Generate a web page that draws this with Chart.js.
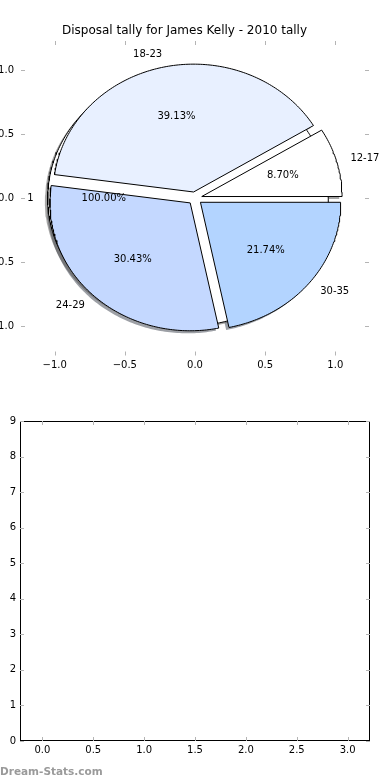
<!DOCTYPE html>
<html>
<head>
<meta charset="utf-8">
<script src="https://cdn.jsdelivr.net/npm/chart.js@4.4.1/dist/chart.umd.min.js"></script>
<style>
  html, body { margin: 0; padding: 0; background: #fff; }
  .box { position: absolute; left: 0; width: 390px; height: 390px; }
  #topBox { top: 0; }
  #bottomBox { top: 390px; }
  #mark { position: absolute; left: 0; top: 766px; font: bold 10.5px "DejaVu Sans"; line-height: 1; color: #9a9a9a; }
</style>
</head>
<body>
<div class="box" id="topBox"><canvas id="pieChart" width="390" height="390"></canvas></div>
<div class="box" id="bottomBox"><canvas id="barChart" width="390" height="390"></canvas></div>
<div id="mark">Dream-Stats.com</div>
<script>
// pie data
const ageGroups = ["12-17", "18-23", "24-29", "30-35"];
const disposals = [2, 9, 7, 5];
const sliceColors = ["#ffffff", "#e8f0ff", "#c4d8ff", "#b3d4ff"];

// the single full pie drawn underneath
const totalGroups = ["1"];
const totalCounts = [1];
const totalColors = ["#ffffff"];

// axis ticks
const pieTicks = [-1.0, -0.5, 0.0, 0.5, 1.0];
const barXTicks = [0.0, 0.5, 1.0, 1.5, 2.0, 2.5, 3.0];
const barYTicks = [0, 1, 2, 3, 4, 5, 6, 7, 8, 9];

const EXPLODE = 0.05;
const SHADOW_OFF = -0.02;
const FONT = "DejaVu Sans";

function arcPoints(cx, cy, a1, a2, withCenter) {
  const pts = [];
  if (withCenter) pts.push({ x: cx, y: cy });
  const steps = Math.max(2, Math.ceil(a2 - a1));
  for (let i = 0; i <= steps; i++) {
    const a = (a1 + (a2 - a1) * i / steps) * Math.PI / 180;
    pts.push({ x: cx + Math.cos(a), y: cy + Math.sin(a) });
  }
  if (withCenter) pts.push({ x: cx, y: cy });
  return pts;
}

function buildPie(labels, values, colors) {
  const total = values.reduce((a, b) => a + b, 0);
  let start = 0;
  return values.map((v, i) => {
    const frac = v / total;
    const a1 = start * 360, a2 = (start + frac) * 360;
    start += frac;
    const mid = (a1 + a2) / 2 * Math.PI / 180;
    const cx = EXPLODE * Math.cos(mid), cy = EXPLODE * Math.sin(mid);
    const full = frac >= 0.9999;
    const lx = cx + 1.1 * Math.cos(mid);
    return {
      pts: arcPoints(cx, cy, a1, a2, !full),
      shadow: arcPoints(cx + SHADOW_OFF, cy + SHADOW_OFF, a1, a2, !full),
      color: colors[i],
      label: labels[i],
      labelX: lx, labelY: cy + 1.1 * Math.sin(mid),
      align: lx > 0 ? "left" : "right",
      pct: (frac * 100).toFixed(2) + "%",
      pctX: cx + 0.6 * Math.cos(mid), pctY: cy + 0.6 * Math.sin(mid)
    };
  });
}

function shadowColor(hex) {
  const n = parseInt(hex.slice(1), 16);
  const r = Math.round(((n >> 16) & 255) * 0.3), g = Math.round(((n >> 8) & 255) * 0.3), b = Math.round((n & 255) * 0.3);
  return `rgba(${r},${g},${b},0.5)`;
}

const under = buildPie(totalGroups, totalCounts, totalColors);
const wedges = buildPie(ageGroups, disposals, sliceColors);
const allWedges = under.concat(wedges);

const datasets = [];
wedges.forEach(w => datasets.push({
  data: w.pts, showLine: true, fill: "shape", backgroundColor: w.color,
  borderColor: "#000", borderWidth: 1, pointRadius: 0, tension: 0, order: 1
}));
under.forEach(w => datasets.push({
  data: w.pts, showLine: true, fill: "shape", backgroundColor: w.color,
  borderColor: "#000", borderWidth: 1, pointRadius: 0, tension: 0, order: 2
}));
allWedges.forEach(w => datasets.push({
  data: w.shadow, showLine: true, fill: "shape", backgroundColor: shadowColor(w.color),
  borderColor: shadowColor(w.color), borderWidth: 0, pointRadius: 0, tension: 0, order: 3
}));

const fmt = v => (v < 0 ? "\u2212" : "") + Math.abs(v).toFixed(1);

// small inward tick marks on all four sides (+ optional frame)
const tickMarks = {
  id: "tickMarks",
  afterDraw(chart, args, opts) {
    const { ctx, chartArea: a, scales } = chart;
    ctx.save();
    if (opts.frame) {
      ctx.strokeStyle = "#000";
      ctx.lineWidth = 1;
      ctx.strokeRect(Math.round(a.left) + 0.5, Math.round(a.top) + 0.5, Math.round(a.right - a.left) - 1, Math.round(a.bottom - a.top) - 1);
    }
    ctx.strokeStyle = "#b4b4b4";
    ctx.lineWidth = 1;
    ctx.beginPath();
    scales.x.ticks.forEach(t => {
      const px = Math.round(scales.x.getPixelForValue(t.value)) + 0.5;
      ctx.moveTo(px, a.top); ctx.lineTo(px, a.top + 4);
      ctx.moveTo(px, a.bottom); ctx.lineTo(px, a.bottom - 4);
    });
    scales.y.ticks.forEach(t => {
      const py = Math.round(scales.y.getPixelForValue(t.value)) + 0.5;
      ctx.moveTo(a.left, py); ctx.lineTo(a.left + 4, py);
      ctx.moveTo(a.right, py); ctx.lineTo(a.right - 4, py);
    });
    ctx.stroke();
    ctx.restore();
  }
};

const pieLabels = {
  id: "pieLabels",
  afterDatasetsDraw(chart) {
    const { ctx, scales } = chart;
    ctx.save();
    ctx.font = `10px "${FONT}"`;
    ctx.fillStyle = "#000";
    ctx.textBaseline = "middle";
    allWedges.forEach(w => {
      ctx.textAlign = w.align;
      ctx.fillText(w.label, scales.x.getPixelForValue(w.labelX), scales.y.getPixelForValue(w.labelY));
      ctx.textAlign = "center";
      ctx.fillText(w.pct, scales.x.getPixelForValue(w.pctX), scales.y.getPixelForValue(w.pctY));
    });
    ctx.restore();
  }
};

const tickFont = { family: FONT, size: 10 };

new Chart(document.getElementById("pieChart"), {
  type: "scatter",
  data: { datasets: datasets },
  options: {
    responsive: false,
    animation: false,
    layout: { padding: { right: 21 } },
    scales: {
      x: {
        min: -1.24, max: 1.24,
        afterBuildTicks: s => { s.ticks = pieTicks.map(v => ({ value: v })); },
        afterFit: s => { s.height = 34.5; },
        grid: { display: false, drawTicks: false },
        border: { display: false },
        ticks: { color: "#000", font: tickFont, padding: 4, maxRotation: 0, callback: fmt }
      },
      y: {
        min: -1.23, max: 1.23,
        afterBuildTicks: s => { s.ticks = pieTicks.map(v => ({ value: v })); },
        afterFit: s => { s.width = 21; },
        grid: { display: false, drawTicks: false },
        border: { display: false },
        ticks: { color: "#000", font: tickFont, padding: 7, callback: fmt }
      }
    },
    plugins: {
      legend: { display: false },
      tooltip: { enabled: false },
      title: {
        display: true,
        text: "Disposal tally for James Kelly - 2010 tally",
        color: "#000",
        font: { family: FONT, size: 12, weight: "normal", lineHeight: 1.2 },
        padding: { top: 24, bottom: 2.6 }
      },
      tickMarks: { frame: false }
    }
  },
  plugins: [tickMarks, pieLabels]
});

new Chart(document.getElementById("barChart"), {
  type: "scatter",
  data: { datasets: [{ data: [] }] },
  options: {
    responsive: false,
    animation: false,
    layout: { padding: { top: 31, right: 20 } },
    scales: {
      x: {
        min: -0.22, max: 3.22,
        afterBuildTicks: s => { s.ticks = barXTicks.map(v => ({ value: v })); },
        afterFit: s => { s.height = 39; },
        grid: { display: false, drawTicks: false },
        border: { display: false },
        ticks: { color: "#000", font: tickFont, padding: 3, maxRotation: 0, callback: v => v.toFixed(1) }
      },
      y: {
        min: 0, max: 9,
        afterBuildTicks: s => { s.ticks = barYTicks.map(v => ({ value: v })); },
        afterFit: s => { s.width = 20; },
        grid: { display: false, drawTicks: false },
        border: { display: false },
        ticks: { color: "#000", font: tickFont, padding: 4, callback: v => String(v) }
      }
    },
    plugins: {
      legend: { display: false },
      tooltip: { enabled: false },
      tickMarks: { frame: true }
    }
  },
  plugins: [tickMarks]
});
</script>
</body>
</html>
